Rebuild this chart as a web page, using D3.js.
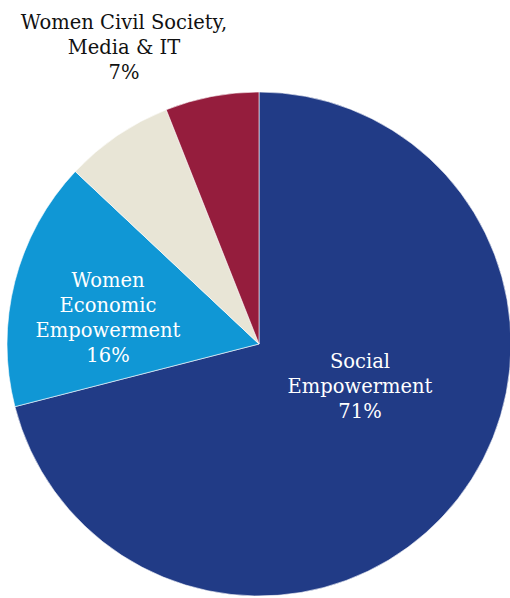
<!DOCTYPE html>
<html>
<head>
<meta charset="utf-8">
<script src="https://cdn.jsdelivr.net/npm/d3@7"></script>
<style>
  html, body { margin: 0; padding: 0; background: #ffffff; }
  svg { display: block; }
</style>
</head>
<body>
<svg id="chart" width="510" height="598"></svg>
<script>
// Share of programme funding by focus area (percent)
const categories = ["Social Empowerment", "Women Economic Empowerment", "Women Civil Society, Media & IT", "Other"];
const shares = [71, 16, 7, 6];
const colors = ["#213b86", "#1097d5", "#e8e5d6", "#951d3d"];
// Label lines drawn for each slice (the last slice carries no label)
const labelLines = [
  ["Social", "Empowerment", "71%"],
  ["Women", "Economic", "Empowerment", "16%"],
  ["Women Civil Society,", "Media & IT", "7%"],
  []
];
const labelColors = ["#ffffff", "#ffffff", "#111111", "#ffffff"];

const svg = d3.select("#chart");
const cx = 259, cy = 344, radius = 252;

const data = categories.map((c, i) => ({ name: c, value: shares[i], color: colors[i], lines: labelLines[i], textColor: labelColors[i] }));

const pie = d3.pie().value(d => d.value).sort(null);
const arc = d3.arc().innerRadius(0).outerRadius(radius);
const arcs = pie(data);

const g = svg.append("g").attr("transform", `translate(${cx},${cy})`);

g.selectAll("path.slice")
  .data(arcs)
  .join("path")
  .attr("class", "slice")
  .attr("d", arc)
  .attr("fill", d => d.data.color)
  .attr("stroke", "#ffffff")
  .attr("stroke-width", 0.6);

// Label block centres, relative to the pie centre
const labelPos = [[101, 42], [-151, -26], [-135, -297], null];

const lineH = 25;
arcs.forEach((a, i) => {
  const lines = a.data.lines;
  if (!lines.length) return;
  const [x, y] = labelPos[i];
  const t = g.append("text")
    .attr("text-anchor", "middle")
    .attr("font-family", "'DejaVu Serif', serif")
    .attr("font-size", 19.5)
    .attr("fill", a.data.textColor);
  const y0 = y - (lines.length - 1) * lineH / 2;
  lines.forEach((ln, k) => {
    t.append("tspan")
      .attr("x", x)
      .attr("y", y0 + k * lineH)
      .attr("dy", "0.35em")
      .text(ln);
  });
});
</script>
</body>
</html>
